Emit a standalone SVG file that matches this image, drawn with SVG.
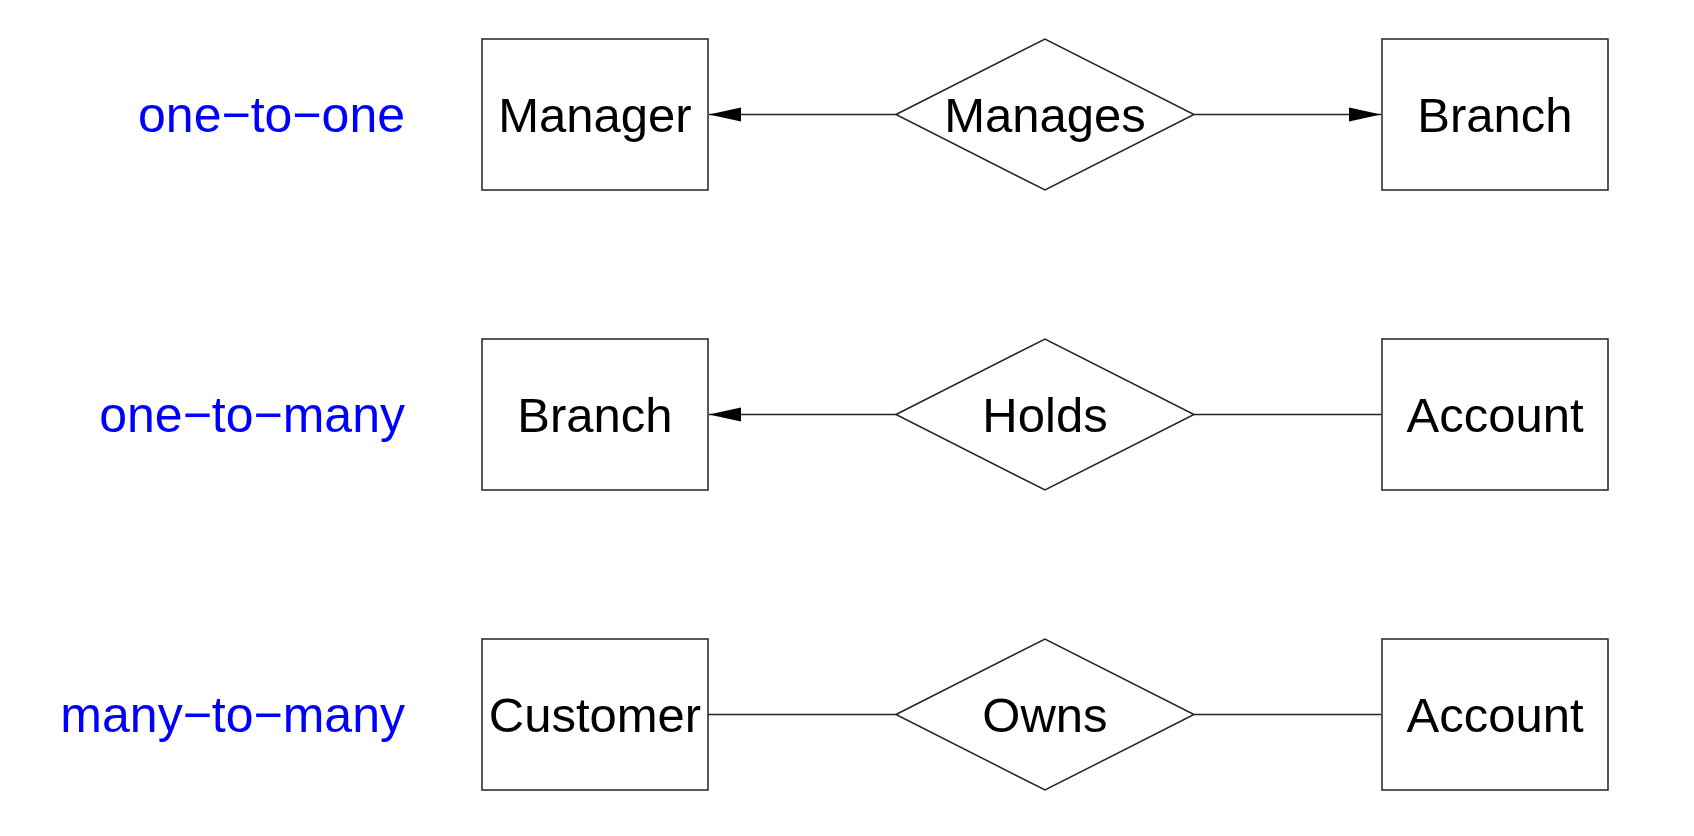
<svg xmlns="http://www.w3.org/2000/svg" width="1694" height="836" viewBox="0 0 1694 836">
<style>
.box{fill:#fff;stroke:#222;stroke-width:1.5}
.t{font-family:"Liberation Sans",Arial,sans-serif;font-size:49px;fill:#000;text-anchor:middle}
.lbl{font-family:"Liberation Sans",Arial,sans-serif;font-size:50px;fill:#0000ff;text-anchor:end}
.ln{stroke:#222;stroke-width:1.5;fill:none}
</style>
<defs>
<marker id="ah" markerUnits="userSpaceOnUse" viewBox="0 0 32 16" refX="32" refY="8" markerWidth="32" markerHeight="16" orient="auto">
<path d="M0,1 L32,8 L0,15 Z" fill="#000"/>
</marker>
</defs>
<rect width="1694" height="836" fill="#fff"/>
<g id="labels">
<text class="lbl" x="405" y="132">one−to−one</text>
<text class="lbl" x="405" y="432">one−to−many</text>
<text class="lbl" x="405" y="732">many−to−many</text>
</g>
<g id="connectors">
<line class="ln" x1="896" y1="114.5" x2="709" y2="114.5" marker-end="url(#ah)"/>
<line class="ln" x1="1194" y1="114.5" x2="1381" y2="114.5" marker-end="url(#ah)"/>
<line class="ln" x1="896" y1="414.5" x2="709" y2="414.5" marker-end="url(#ah)"/>
<line class="ln" x1="1194" y1="414.5" x2="1381" y2="414.5"/>
<line class="ln" x1="896" y1="714.5" x2="708" y2="714.5"/>
<line class="ln" x1="1194" y1="714.5" x2="1381" y2="714.5"/>
</g>
<g id="manager"><rect class="box" x="482" y="39" width="226" height="151"/><text class="t" x="595" y="132">Manager</text></g>
<g id="manages"><polygon class="box" points="896,114.5 1045,39 1194,114.5 1045,190"/><text class="t" x="1045" y="132">Manages</text></g>
<g id="branch1"><rect class="box" x="1382" y="39" width="226" height="151"/><text class="t" x="1495" y="132">Branch</text></g>
<g id="branch2"><rect class="box" x="482" y="339" width="226" height="151"/><text class="t" x="595" y="432">Branch</text></g>
<g id="holds"><polygon class="box" points="896,414.5 1045,339 1194,414.5 1045,490"/><text class="t" x="1045" y="432">Holds</text></g>
<g id="account1"><rect class="box" x="1382" y="339" width="226" height="151"/><text class="t" x="1495" y="432">Account</text></g>
<g id="customer"><rect class="box" x="482" y="639" width="226" height="151"/><text class="t" x="595" y="732">Customer</text></g>
<g id="owns"><polygon class="box" points="896,714.5 1045,639 1194,714.5 1045,790"/><text class="t" x="1045" y="732">Owns</text></g>
<g id="account2"><rect class="box" x="1382" y="639" width="226" height="151"/><text class="t" x="1495" y="732">Account</text></g>
</svg>
